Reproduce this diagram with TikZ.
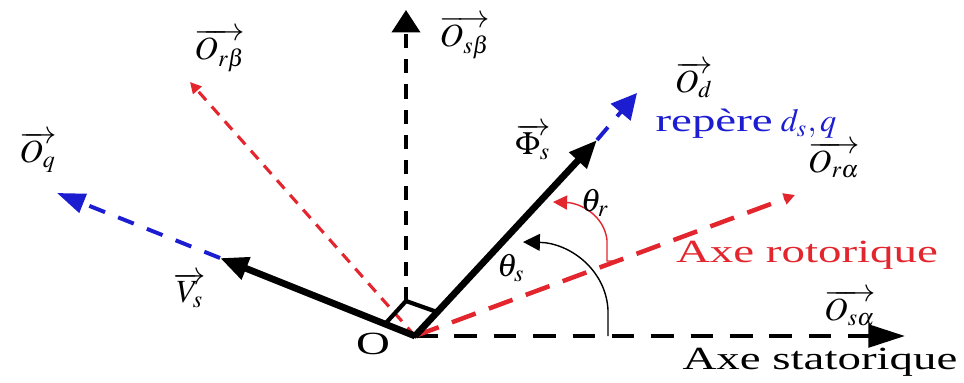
\documentclass[tikz,border=0pt]{standalone}
\usepackage{mathptmx}
\usepackage{fontspec}
\setmainfont{Liberation Serif}
\usetikzlibrary{arrows.meta}
\definecolor{rotorred}{HTML}{E3262E}
\definecolor{frameblue}{HTML}{1C1CD0}
\newcommand{\wide}[1]{\scalebox{1.45}[1]{#1}}

\begin{document}
\begin{tikzpicture}[x=0.0125cm,y=-0.0125cm,
  lbl/.style={inner sep=0pt,font=\fontsize{11.5}{13}\selectfont},
  statorax/.style={line width=1.4pt,dash pattern=on 8pt off 6pt},
  rotorax/.style={rotorred,line width=1.6pt,dash pattern=on 9pt off 5pt,-{Triangle[length=4pt,width=4pt]}},
  frameax/.style={frameblue,line width=1.4pt,dash pattern=on 6pt off 5pt},
  vec/.style={line width=2.4pt,-{Triangle[length=10pt,width=8pt]}},
  angle/.style={line width=0.5pt}]
  \useasboundingbox (0,0) rectangle (964,383);

  % points
  \coordinate (O) at (415,336);
  \coordinate (Osa) at (905,336);
  \coordinate (Osb0) at (406,301);
  \coordinate (Osb) at (406,10);
  \coordinate (Ora) at (795,195);
  \coordinate (Orb) at (190,82);
  \coordinate (Vs) at (220,258);
  \coordinate (Oq) at (57,193);
  \coordinate (Phi) at (597,140);
  \coordinate (Od) at (637,93);

  % stator frame
  \draw[statorax,-{Triangle[length=13pt,width=8pt]}] (O) -- (Osa);
  \draw[statorax,dash pattern=on 5pt off 4pt,-{Triangle[length=8pt,width=10pt]}] (Osb0) -- (Osb);

  % rotor frame
  \draw[rotorax] (O) -- (Ora);
  \draw[rotorax,line width=1.1pt,dash pattern=on 4pt off 3pt] (O) -- (Orb);

  % d,q frame
  \draw[frameax,-{Triangle[length=10pt,width=7pt]}] (Vs) -- (Oq);
  \draw[frameax,-{Triangle[length=9pt,width=9pt]}] (Phi) -- (Od);

  % vectors
  \draw[vec] (O) -- (Vs);
  \draw[vec] (O) -- (Phi);
  \draw[line width=1.5pt] (O) -- (385,324) -- (Osb0) -- (437,312) -- cycle;

  % angles
  \draw[angle,-{Triangle[length=6pt,width=6pt]}] (608,336) -- (608,310)
    .. controls (606,270) and (570,243) .. (523,242);
  \draw[angle,rotorred,-{Triangle[length=5pt,width=5pt]}] (622,261) -- (607,261) -- (607,240)
    .. controls (604,215) and (580,203) .. (553,202);

  % labels
  \node[lbl] (lO) at (373,344) {\wide{O}};
  \node[lbl] (lOsa) at (850,308) {$\overrightarrow{O_{s\alpha}}$};
  \node[lbl] (lOsb) at (465,37) {$\overrightarrow{O_{s\beta}}$};
  \node[lbl] (lOra) at (834,160) {$\overrightarrow{O_{r\alpha}}$};
  \node[lbl] (lOrb) at (220,50) {$\overrightarrow{O_{r\beta}}$};
  \node[lbl] (lOd) at (694,80) {$\overrightarrow{O_{d}}$};
  \node[lbl] (lOq) at (38,152) {$\overrightarrow{O_{q}}$};
  \node[lbl] (lVs) at (190,290) {$\overrightarrow{V_{s}}$};
  \node[lbl] (lPhi) at (533,142) {$\overrightarrow{\Phi_{s}}$};
  \node[lbl] (lthr) at (595,203) {$\theta_r$};
  \node[lbl] (lths) at (511,268) {$\theta_s$};
  \node[lbl,frameblue,anchor=base west] (lrep) at (655,132) {\wide{repère} $d_s,q$};
  \node[lbl,rotorred] (lrot) at (807,255) {\wide{Axe rotorique}};
  \node[lbl] (lsta) at (820,362) {\wide{Axe statorique}};
\end{tikzpicture}
\end{document}
